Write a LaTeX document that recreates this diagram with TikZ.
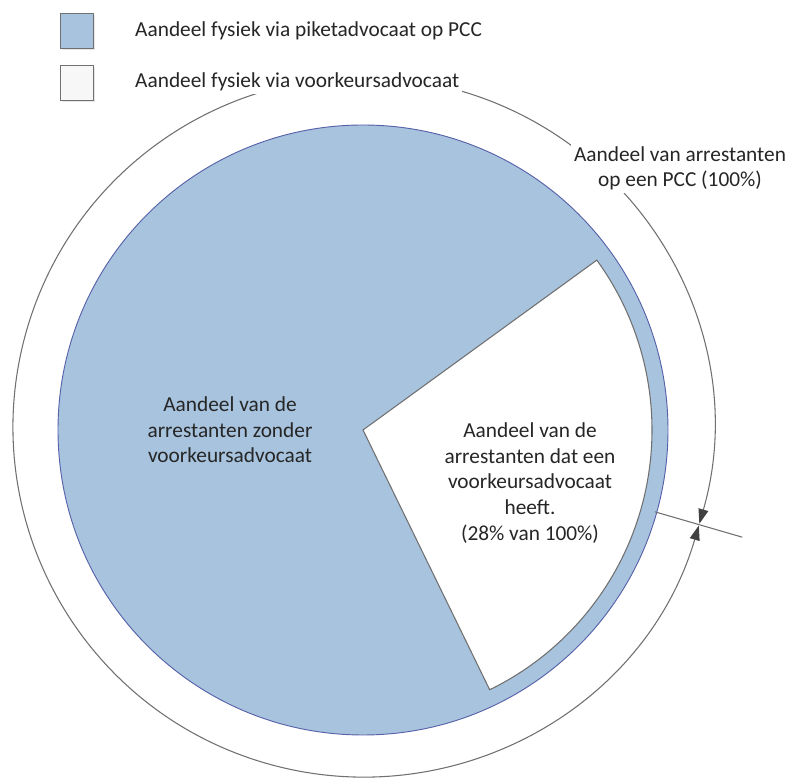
\documentclass[tikz,border=0pt]{standalone}
\usepackage{fontspec}
\setmainfont{Carlito}
\usetikzlibrary{arrows.meta,shadows}
\definecolor{pieblue}{RGB}{167,195,222}
\definecolor{rimblue}{RGB}{88,98,168}
\definecolor{linegray}{RGB}{112,112,112}
\definecolor{txtgray}{RGB}{38,38,38}

\begin{document}
\begin{tikzpicture}[x=0.75pt,y=0.75pt,
  >={Triangle[length=11pt,width=7.5pt,color=black!75]},
  lbl/.style={font=\fontsize{16}{19.2}\selectfont, text=txtgray, align=center},
  legbox/.style={draw=linegray, line width=0.8pt, minimum width=25pt, minimum height=26pt,
    drop shadow={opacity=0.2, shadow xshift=1pt, shadow yshift=-1pt}},
  ring/.style={draw=linegray, line width=0.8pt}]

\useasboundingbox (0,0) rectangle (790,778);

% Define centres
\coordinate (c) at (363,351);
\coordinate (o) at (363,348);

% Pie
\fill[pieblue, draw=rimblue, line width=0.7pt] (o) circle (305);
\filldraw[fill=white, draw=linegray, line width=0.8pt] (o) -- ++(-64:289) arc (-64:36:289) -- cycle;

% Ring and tick
\path (c) ++(-16.2:304) coordinate (tin);
\path (c) ++(-16.2:395) coordinate (tout);
\draw[ring, shift={(c)}, <->] (-16.05:350) arc (-16.05:343.65:350);
\draw[ring] (tin) -- (tout);

% Legend
\node[legbox, fill=pieblue, anchor=north west] (kpiket) at (60,765) {};
\node[legbox, fill=black!3, anchor=north west] (kvoor) at (60,713) {};
\node[lbl, anchor=base west, fill=white, inner sep=2pt] (tpiket) at (132.3,741) {Aandeel fysiek via piketadvocaat op PCC};
\node[lbl, anchor=base west, fill=white, inner sep=2pt] (tvoor) at (132.3,690) {Aandeel fysiek via voorkeursadvocaat};

% Labels
\node[lbl, fill=white, inner sep=2pt] (tpcc) at (680,609.5) {Aandeel van arrestanten\\op een PCC (100\%)};
\node[lbl] (tzonder) at (230,348) {Aandeel van de\\arrestanten zonder\\voorkeursadvocaat};
\node[lbl] (tmet) at (530,295) {Aandeel van de\\arrestanten dat een\\voorkeursadvocaat\\heeft.\\(28\% van 100\%)};

\end{tikzpicture}
\end{document}
